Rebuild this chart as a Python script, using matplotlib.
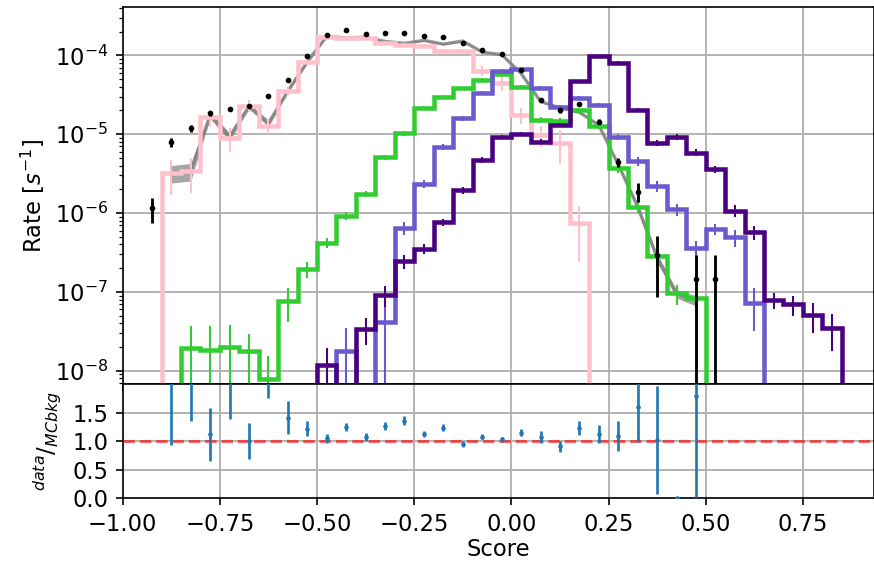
import numpy as np
import matplotlib
matplotlib.use("Agg")
import matplotlib.pyplot as plt

plt.rcParams['font.size'] = 11

edges = np.round(np.arange(-1.0, 0.9001, 0.05), 3)
centers = 0.5 * (edges[:-1] + edges[1:])

def full(d):
    a = np.zeros(len(centers))
    for k, v in d.items():
        a[k] = v
    return a

# MC background (pink)
mc_bkg = full({2: 3.2e-6, 3: 3.4e-6, 4: 1.64e-5, 5: 8.9e-6, 6: 2.29e-5, 7: 1.27e-5, 8: 3.55e-5,
               9: 8.35e-5, 10: 1.7e-4, 11: 1.68e-4, 12: 1.65e-4, 13: 1.45e-4, 14: 1.36e-4,
               15: 1.32e-4, 16: 1.12e-4, 17: 1.13e-4, 18: 6.4e-5, 19: 4.5e-5, 20: 1.76e-5,
               21: 9.8e-6, 22: 7.7e-6, 23: 7.4e-7})
mc_bkg_err = full({2: 1.5e-6, 3: 1.6e-6, 4: 4e-6, 5: 3e-6, 6: 4e-6, 7: 2.7e-6, 8: 4e-6, 9: 5e-6,
                   10: 6e-6, 11: 6e-6, 12: 6e-6, 13: 6e-6, 14: 7e-6, 15: 9e-6, 16: 8e-6, 17: 8e-6,
                   18: 9e-6, 19: 1e-5, 20: 4e-6, 21: 3e-6, 22: 3.5e-6, 23: 5e-7})

# signal 1 (green)
sig1 = full({3: 1.92e-8, 4: 1.86e-8, 5: 2.02e-8, 6: 1.76e-8, 7: 7.9e-9, 8: 7.7e-8, 9: 1.94e-7,
             10: 4.2e-7, 11: 9.2e-7, 12: 1.75e-6, 13: 5.1e-6, 14: 1.03e-5, 15: 2.14e-5, 16: 2.95e-5,
             17: 3.84e-5, 18: 4.9e-5, 19: 5.8e-5, 20: 3.95e-5, 21: 1.51e-5, 22: 1.48e-5, 23: 2.0e-5,
             24: 1.27e-5, 25: 3.7e-6, 26: 1.19e-6, 27: 2.86e-7, 28: 9.6e-8, 29: 8.3e-8})
sig1_err = full({3: 1.8e-8, 4: 1.8e-8, 5: 1.8e-8, 6: 1.2e-8, 7: 7.6e-9, 8: 3.5e-8, 9: 4.5e-8,
                 10: 6e-8, 11: 1e-7, 12: 1.5e-7, 13: 4e-7, 14: 7e-7, 15: 1.2e-6, 16: 1.5e-6,
                 17: 1.8e-6, 18: 2e-6, 19: 2.4e-6, 20: 2e-6, 21: 1.2e-6, 22: 1.2e-6, 23: 1.5e-6,
                 24: 1.2e-6, 25: 5e-7, 26: 2e-7, 27: 6e-8, 28: 2.7e-8, 29: 2e-8})

# signal 2 (slate blue)
sig2 = full({11: 1.77e-8, 13: 4.2e-8, 14: 6.4e-7, 15: 2.35e-6, 16: 6.97e-6, 17: 1.6e-5,
             18: 3.37e-5, 19: 6.36e-5, 20: 6.67e-5, 21: 3.84e-5, 22: 2.2e-5, 23: 2.86e-5,
             24: 2.36e-5, 25: 9.3e-6, 26: 4.6e-6, 27: 2.2e-6, 28: 1.12e-6, 29: 3.57e-7,
             30: 6.2e-7, 31: 4.9e-7, 32: 7.2e-8})
sig2_err = full({11: 1.7e-8, 13: 3.5e-8, 14: 1.2e-7, 15: 3e-7, 16: 6e-7, 17: 1.2e-6, 18: 2e-6,
                 19: 3e-6, 20: 3e-6, 21: 2.2e-6, 22: 1.6e-6, 23: 1.8e-6, 24: 1.6e-6, 25: 9e-7,
                 26: 6e-7, 27: 3.5e-7, 28: 2e-7, 29: 8e-8, 30: 1e-7, 31: 1.2e-7, 32: 4e-8})

# signal 3 (indigo)
sig3 = full({10: 1.18e-8, 12: 3.4e-8, 13: 9.1e-8, 14: 2.47e-7, 15: 3.5e-7, 16: 7.6e-7,
             17: 1.96e-6, 18: 4.7e-6, 19: 9.3e-6, 20: 1.01e-5, 21: 8.05e-6, 22: 1.31e-5,
             23: 4.66e-5, 24: 9.86e-5, 25: 8.1e-5, 26: 2.04e-5, 27: 7.8e-6, 28: 9.2e-6,
             29: 5.85e-6, 30: 3.6e-6, 31: 1.07e-6, 32: 5.7e-7, 33: 7.8e-8, 34: 7.0e-8,
             35: 5.1e-8, 36: 3.5e-8})
sig3_err = full({10: 7.5e-9, 12: 1.3e-8, 13: 2.7e-8, 14: 5e-8, 15: 5e-8, 16: 8e-8, 17: 2e-7,
                 18: 4e-7, 19: 6e-7, 20: 7e-7, 21: 6e-7, 22: 8e-7, 23: 2e-6, 24: 3e-6, 25: 3e-6,
                 26: 1.3e-6, 27: 7e-7, 28: 8e-7, 29: 6e-7, 30: 4e-7, 31: 1.8e-7, 32: 1.2e-7,
                 33: 1.8e-8, 34: 2e-8, 35: 2.1e-8, 36: 1.7e-8})

# MC total (gray band)
mc_tot = full({2: 3.2e-6, 3: 3.4e-6, 4: 1.75e-5, 5: 9.3e-6, 6: 2.26e-5, 7: 1.38e-5, 8: 3.55e-5,
               9: 8.3e-5, 10: 1.75e-4, 11: 1.66e-4, 12: 1.7e-4, 13: 1.5e-4, 14: 1.42e-4,
               15: 1.55e-4, 16: 1.39e-4, 17: 1.52e-4, 18: 1.1e-4, 19: 1.02e-4, 20: 5.9e-5,
               21: 2.6e-5, 22: 2.15e-5, 23: 1.9e-5, 24: 1.3e-5, 25: 4.1e-6, 26: 1.2e-6,
               27: 2.7e-7, 28: 9.5e-8, 29: 7.8e-8})
mc_tot_relerr = full({2: .25, 3: .25, 4: .1, 5: .12, 6: .08, 7: .1, 8: .06, 9: .05, 10: .03,
                      11: .03, 12: .03, 13: .03, 14: .03, 15: .03, 16: .03, 17: .03, 18: .03,
                      19: .03, 20: .03, 21: .03, 22: .03, 23: .03, 24: .03, 25: .06, 26: .1,
                      27: .12, 28: .12, 29: .15})

# data (black)
data = full({1: 1.15e-6, 2: 7.9e-6, 3: 1.19e-5, 4: 1.85e-5, 5: 2.1e-5, 6: 2.29e-5, 7: 3.03e-5,
             8: 4.89e-5, 9: 9.95e-5, 10: 1.82e-4, 11: 2.1e-4, 12: 1.86e-4, 13: 1.91e-4,
             14: 1.91e-4, 15: 1.78e-4, 16: 1.7e-4, 17: 1.45e-4, 18: 1.17e-4, 19: 1.04e-4,
             20: 6.55e-5, 21: 2.73e-5, 22: 2.0e-5, 23: 2.42e-5, 24: 1.44e-5, 25: 4.4e-6,
             26: 1.87e-6, 27: 2.95e-7, 29: 1.45e-7, 30: 1.45e-7})
data_err = full({1: 4e-7, 2: 1.1e-6, 3: 1.2e-6, 4: 1.3e-6, 5: 1.4e-6, 6: 1.5e-6, 7: 1.7e-6,
                 8: 2e-6, 9: 3e-6, 10: 4e-6, 11: 4e-6, 12: 4e-6, 13: 4e-6, 14: 4e-6, 15: 4e-6,
                 16: 4e-6, 17: 3.5e-6, 18: 3e-6, 19: 3e-6, 20: 2.5e-6, 21: 1.5e-6, 22: 1.3e-6,
                 23: 1.5e-6, 24: 1.1e-6, 25: 6e-7, 26: 5e-7, 27: 2.1e-7, 29: 1.45e-7, 30: 1.45e-7})

# ratio data / MC bkg
ratio_idx = list(range(2, 30))
ratio = [2.5, 3.5, 1.12, 2.25, 1.0, 2.2, 1.41, 1.22, 1.05, 1.25, 1.08, 1.26, 1.36, 1.13, 1.235,
         0.95, 1.08, 1.03, 1.15, 1.07, 0.91, 1.23, 1.13, 1.09, 1.6, 1.02, 0.0, 1.79]
ratio_err = [1.56, 2.15, 0.46, 0.87, 0.31, 0.44, 0.29, 0.13, 0.08, 0.075, 0.07, 0.07, 0.075,
             0.05, 0.065, 0.045, 0.05, 0.05, 0.065, 0.11, 0.1, 0.13, 0.16, 0.27, 0.62, 0.95,
             0.0, 1.8]

fig = plt.figure(figsize=(874 / 148, 565 / 148), dpi=148)
ax = fig.add_axes([0.1404, 0.3204, 0.8596, 0.6672])
axr = fig.add_axes([0.1404, 0.118, 0.8596, 0.2024], sharex=ax)

ax.set_yscale('log')

# gray MC total band
m = mc_tot > 0
ax.fill_between(centers[m], mc_tot[m] * (1 - mc_tot_relerr[m]), mc_tot[m] * (1 + mc_tot_relerr[m]),
                color='gray', alpha=0.7, lw=0, zorder=2)
ax.plot(centers[m], mc_tot[m], color='gray', alpha=0.8, lw=1.6, zorder=2)

series = [(mc_bkg, mc_bkg_err, 'pink'), (sig1, sig1_err, 'limegreen'),
          (sig2, sig2_err, 'slateblue'), (sig3, sig3_err, 'indigo')]
for z, (vals, errs, col) in enumerate(series):
    ax.stairs(vals, edges, color=col, lw=2.2, zorder=3 + z)
    mm = vals > 0
    ax.errorbar(centers[mm], vals[mm], yerr=errs[mm], fmt='none', ecolor=col, elinewidth=1.0,
                zorder=3 + z)

md = data > 0
ax.errorbar(centers[md], data[md], yerr=data_err[md], fmt='.', color='black', ms=3.5,
            elinewidth=1.4, zorder=10)

ax.set_xlim(-1.0, 0.933)
ax.set_ylim(6.8e-9, 4.1e-4)
ax.grid(True, which='major', color='#b0b0b0', lw=0.9)
ax.set_ylabel('Rate [$s^{-1}$]')
ax.tick_params(labelbottom=False)

rc = centers[ratio_idx]
axr.errorbar(rc, ratio, yerr=ratio_err, fmt='.', color='C0', ms=2.5, elinewidth=1.3, zorder=5)
axr.axhline(1.0, color='red', alpha=0.6, ls='--', lw=1.5, zorder=4)
axr.set_ylim(0, 2.0)
axr.set_yticks([0.0, 0.5, 1.0, 1.5])
axr.set_xticks([-1.0, -0.75, -0.5, -0.25, 0.0, 0.25, 0.5, 0.75])
axr.grid(True, color='#b0b0b0', lw=0.9)
axr.set_xlabel('Score', labelpad=1)
axr.set_ylabel(r'$^{data}/_{MCbkg}$')

fig.savefig('out.png', dpi=148)
